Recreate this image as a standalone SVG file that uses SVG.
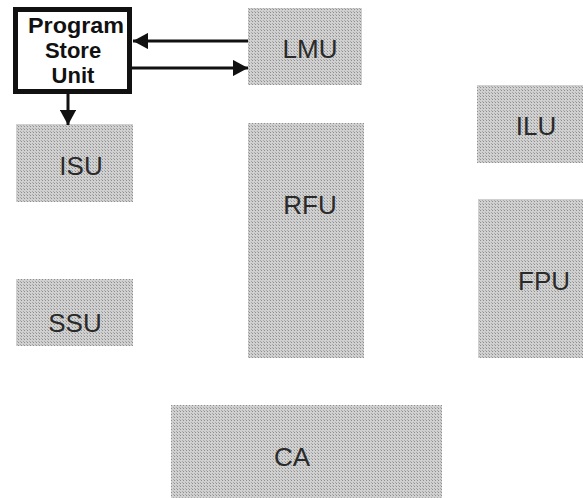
<svg xmlns="http://www.w3.org/2000/svg" width="583" height="498" viewBox="0 0 583 498">
<style>
.lbl{font-family:"Liberation Sans",Arial,sans-serif;font-size:26px;fill:#2a2a2a;text-anchor:middle}
.psu{font-family:"Liberation Sans",Arial,sans-serif;font-size:22px;font-weight:bold;fill:#111;text-anchor:middle}
.c{stroke:#111;stroke-width:3;fill:none}
</style>
<defs>
<pattern id="dots" width="3" height="3" patternUnits="userSpaceOnUse">
<rect width="3" height="3" fill="#d0d0d0"/>
<rect width="1" height="1" fill="#8e8e8e"/>
<rect x="2" y="2" width="1" height="1" fill="#a8a8a8"/>
</pattern>
<marker id="ah" viewBox="0 0 10 10" refX="10" refY="5" markerWidth="5" markerHeight="5.4" orient="auto" markerUnits="strokeWidth" preserveAspectRatio="none">
<path d="M0,0 L10,5 L0,10 z" fill="#111"/>
</marker>
</defs>
<g id="LMU"><rect x="248" y="8" width="114" height="77" fill="url(#dots)"/><text class="lbl" x="310" y="58">LMU</text></g>
<g id="ISU"><rect x="16" y="124" width="117" height="78" fill="url(#dots)"/><text class="lbl" x="81" y="175">ISU</text></g>
<g id="SSU"><rect x="16" y="279" width="117" height="67" fill="url(#dots)"/><text class="lbl" x="75" y="332">SSU</text></g>
<g id="RFU"><rect x="248" y="123" width="116" height="235" fill="url(#dots)"/><text class="lbl" x="310" y="214">RFU</text></g>
<g id="ILU"><rect x="477" y="85" width="106" height="78" fill="url(#dots)"/><text class="lbl" x="536" y="135">ILU</text></g>
<g id="FPU"><rect x="478" y="199" width="105" height="159" fill="url(#dots)"/><text class="lbl" x="544" y="290">FPU</text></g>
<g id="CA"><rect x="171" y="405" width="271" height="93" fill="url(#dots)"/><text class="lbl" x="292" y="466">CA</text></g>
<g id="PSU"><rect x="15.5" y="9.5" width="114" height="82" fill="#fff" stroke="#111" stroke-width="5"/>
<text class="psu" x="76" y="33" textLength="96" lengthAdjust="spacingAndGlyphs">Program</text><text class="psu" x="73" y="58">Store</text><text class="psu" x="73" y="83">Unit</text></g>
<g id="connectors">
<line class="c" x1="248" y1="41" x2="133" y2="41" marker-end="url(#ah)"/>
<line class="c" x1="132" y1="68" x2="248" y2="68" marker-end="url(#ah)"/>
<line class="c" x1="68" y1="94" x2="68" y2="125" marker-end="url(#ah)"/>
</g>
</svg>
